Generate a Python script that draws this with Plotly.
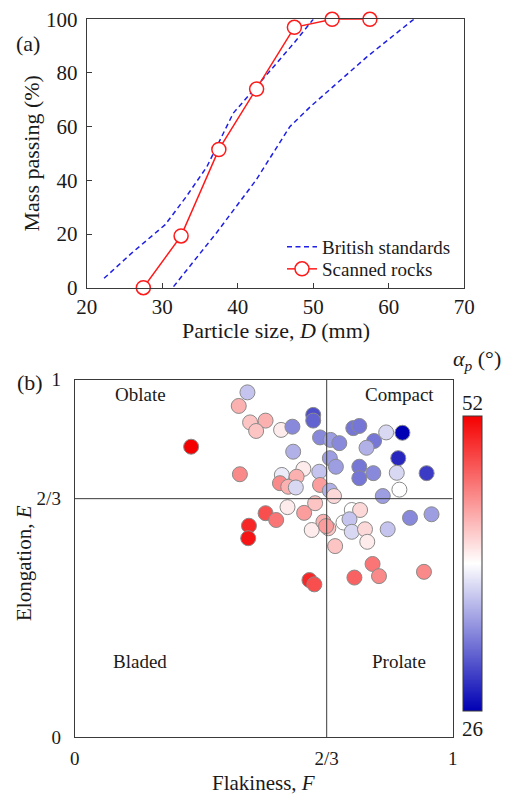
import plotly.graph_objects as go

# ---------------- Panel (a) data ----------------
bs_lower_D = [22.3, 26.0, 30.4, 33.2, 35.9, 37.4, 39.4, 42.1, 43.8, 47.4, 50.0]
bs_lower_P = [3.5, 13.0, 23.5, 34.0, 45.0, 53.5, 65.0, 73.7, 79.2, 91.0, 100.0]
bs_upper_D = [31.5, 37.2, 42.4, 46.9, 49.6, 52.7, 57.1, 63.3]
bs_upper_P = [0.4, 20.5, 40.0, 60.0, 67.4, 75.0, 86.0, 100.0]
scan_D = [27.5, 32.5, 37.5, 42.5, 47.5, 52.5, 57.5]
scan_P = [0.0, 19.3, 51.5, 74.0, 97.0, 100.0, 100.0]

# ---------------- Panel (b) data ----------------
flak = [0.457, 0.434, 0.464, 0.505, 0.480, 0.546, 0.576, 0.631, 0.631, 0.649,
        0.677, 0.700, 0.737, 0.753, 0.792, 0.772, 0.824, 0.867, 0.856, 0.308,
        0.578, 0.675, 0.691, 0.753, 0.790, 0.852, 0.931, 0.753, 0.437, 0.548,
        0.605, 0.647, 0.587, 0.543, 0.565, 0.585, 0.649, 0.675, 0.686, 0.859,
        0.815, 0.563, 0.607, 0.636, 0.505, 0.533, 0.461, 0.459, 0.627, 0.658,
        0.671, 0.711, 0.733, 0.755, 0.727, 0.733, 0.768, 0.774, 0.689, 0.828,
        0.887, 0.944, 0.788, 0.805, 0.740, 0.924, 0.621, 0.634, 0.665]
elong = [0.964, 0.926, 0.880, 0.885, 0.856, 0.859, 0.868, 0.901, 0.885, 0.838,
         0.831, 0.822, 0.864, 0.870, 0.828, 0.809, 0.852, 0.851, 0.780, 0.812,
         0.798, 0.780, 0.756, 0.756, 0.738, 0.739, 0.738, 0.724, 0.735, 0.733,
         0.750, 0.742, 0.728, 0.710, 0.700, 0.698, 0.705, 0.689, 0.674, 0.692,
         0.674, 0.643, 0.627, 0.654, 0.626, 0.607, 0.591, 0.556, 0.579, 0.602,
         0.584, 0.600, 0.635, 0.635, 0.609, 0.574, 0.581, 0.546, 0.534, 0.581,
         0.613, 0.623, 0.484, 0.450, 0.446, 0.462, 0.439, 0.427, 0.590]
alpha = [36, 43, 42, 43, 42, 40, 33, 30, 31, 33,
         34, 33, 32, 32, 32, 35, 37, 26, 28, 52,
         35, 34, 34, 32, 33, 37, 29, 32, 45, 38,
         40, 36, 43, 45, 43, 37, 44, 35, 41, 39,
         34, 40, 44, 42, 48, 46, 50, 51, 40, 43,
         42, 39, 39, 41, 36, 37, 41, 40, 42, 36,
         33, 34, 46, 45, 47, 45, 50, 48, 44]
alpha_min, alpha_max = 26, 52
threshold = 2 / 3
quad_names = ["Oblate", "Compact", "Bladed", "Prolate"]
quad_F = [0.173, 0.858, 0.173, 0.858]
quad_E = [0.957, 0.957, 0.21, 0.21]

FONT = "Liberation Serif"
AXC = "#3a3a3a"
TXT = "#1a1a1a"
W, H = 509, 797
TICK = 21
TICK_B = 19
TITLE = 22

fig = go.Figure()

# panel (a)
fig.add_trace(go.Scatter(x=bs_lower_D, y=bs_lower_P, mode="lines", name="British standards",
                         legendgroup="bs", legend="legend",
                         line=dict(color="#1f1fe6", width=1.5, dash="5px,3.5px"),
                         xaxis="x", yaxis="y"))
fig.add_trace(go.Scatter(x=bs_upper_D, y=bs_upper_P, mode="lines", name="British standards",
                         legendgroup="bs", showlegend=False,
                         line=dict(color="#1f1fe6", width=1.5, dash="5px,3.5px"),
                         xaxis="x", yaxis="y"))
fig.add_trace(go.Scatter(x=scan_D, y=scan_P, mode="lines+markers", name="Scanned rocks",
                         legend="legend2",
                         line=dict(color="#ff1a1a", width=1.5),
                         marker=dict(symbol="circle", size=14, color="white",
                                     line=dict(color="#ff1a1a", width=1.5)),
                         xaxis="x", yaxis="y", cliponaxis=False))

# panel (b)
colorscale = [[0.0, "#0000b4"], [0.5, "#ffffff"], [1.0, "#f50000"]]
fig.add_trace(go.Scatter(x=flak, y=elong, mode="markers", showlegend=False,
                         marker=dict(size=15, color=alpha, cmin=alpha_min, cmax=alpha_max,
                                     colorscale=colorscale,
                                     line=dict(color="#8a8a8a", width=1),
                                     colorbar=dict(x=463 / W, xanchor="left", y=1 - 711 / H,
                                                   yanchor="bottom", len=295 / H, lenmode="fraction",
                                                   thickness=19, thicknessmode="pixels",
                                                   xpad=0, ypad=0, outlinewidth=1, outlinecolor=AXC,
                                                   showticklabels=False, ticks="")),
                         xaxis="x2", yaxis="y2"))

# threshold lines
fig.add_shape(type="line", xref="x2", yref="y2", x0=threshold, x1=threshold, y0=0, y1=1,
              line=dict(color=AXC, width=1))
fig.add_shape(type="line", xref="x2", yref="y2", x0=0, x1=1, y0=threshold, y1=threshold,
              line=dict(color=AXC, width=1))

common = dict(showgrid=False, zeroline=False, showline=True, linecolor=AXC, linewidth=1,
              mirror=True, automargin=False)
fa = dict(family=FONT, size=TICK, color=TXT)
fb = dict(family=FONT, size=TICK_B, color=TXT)

legfont = dict(family=FONT, size=19, color=TXT)
fig.update_layout(
    width=W, height=H, margin=dict(l=0, r=0, t=0, b=0, autoexpand=False),
    paper_bgcolor="white", plot_bgcolor="white",
    font=dict(family=FONT, size=19, color=TXT),
    xaxis=dict(domain=[86.7 / W, 464.3 / W], range=[20, 70], dtick=10, anchor="y",
               ticks="inside", ticklen=5, tickcolor=AXC, tickfont=fa, **common),
    yaxis=dict(domain=[1 - 287.7 / H, 1 - 19.3 / H], range=[0, 100], dtick=20, anchor="x",
               ticks="inside", ticklen=5, tickcolor=AXC, ticklabelstandoff=4, tickfont=fa,
               **common),
    xaxis2=dict(domain=[74.7 / W, 452.7 / W], range=[0, 1], anchor="y2",
                tickvals=[0, threshold, 1], ticktext=["0", "2/3", "1"], ticks="",
                ticklabelstandoff=4, tickfont=fb, **common),
    yaxis2=dict(domain=[1 - 737 / H, 1 - 379.5 / H], range=[0, 1], anchor="x2",
                tickvals=[0, threshold, 1], ticktext=["0", "2/3", "1"], ticks="",
                ticklabelstandoff=9, tickfont=fb, **common),
    legend=dict(x=282 / W, xanchor="left", y=1 - 247 / H, yanchor="middle",
                bgcolor="rgba(0,0,0,0)", font=legfont, itemwidth=30),
    legend2=dict(x=282 / W, xanchor="left", y=1 - 269 / H, yanchor="middle",
                 bgcolor="rgba(0,0,0,0)", font=legfont, itemwidth=30),
    showlegend=True,
)


def lab(text, px, py, size=TITLE, angle=0):
    return dict(text=text, x=px / W, y=1 - py / H, xref="paper", yref="paper",
                xanchor="center", yanchor="middle", textangle=angle, showarrow=False,
                font=dict(family=FONT, size=size, color=TXT))


ann = [
    lab("Mass passing (%)", 31, 153.5, angle=-90),
    lab("Particle size, <i>D</i> (mm)", 275.5, 330),
    lab("(a)", 28, 43),
    lab("(b)", 30, 382),
    lab("Elongation, <i>E</i>", 24, 563, size=21, angle=-90),
    lab("Flakiness, <i>F</i>", 263.7, 783, size=21),
    lab("<i>α</i><sub><i>p</i></sub> (°)", 477, 360),
    lab(str(alpha_max), 472.5, 403, size=TICK),
    lab(str(alpha_min), 472.5, 729, size=TICK),
]
for name, fx, ey in zip(quad_names, quad_F, quad_E):
    ann.append(dict(text=name, x=fx, y=ey, xref="x2", yref="y2", xanchor="center",
                    yanchor="middle", showarrow=False,
                    font=dict(family=FONT, size=19, color=TXT)))
fig.update_layout(annotations=ann)

fig.write_html("out.html")
